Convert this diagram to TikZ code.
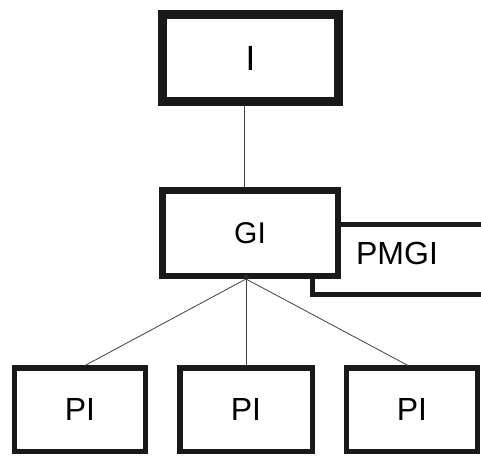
\documentclass[tikz,border=0pt]{standalone}
\usepackage{fontspec}
\setmainfont{Liberation Sans}
\usetikzlibrary{calc}
\tikzset{
	unitbox/.style={draw=black!90, rectangle, inner sep=0pt, minimum width=131pt, minimum height=83.5pt, line width=5.5pt, font=\fontsize{32}{32}\selectfont},
	thin link/.style={line width=0.8pt, color=black!75}
}

\begin{document}
\begin{tikzpicture}[x=1pt, y=-1pt]
		%%%%% START %%%%%
		\useasboundingbox (0, 0) rectangle (481, 455);
		
		\node[unitbox, line width=9pt, minimum width=176pt, minimum height=87pt, font=\fontsize{35}{35}\selectfont] (i) at (250.5, 58) {I};
		\node[unitbox, line width=6.5pt, minimum width=175.5pt, minimum height=85.5pt, font=\fontsize{30}{30}\selectfont] (gi) at (250, 233) {GI};
		
		\node[unitbox] (pi1) at (80, 409.5) {PI};
		\node[unitbox, minimum width=132.5pt] (pi2) at (246, 409.5) {PI};
		\node[unitbox] (pi3) at (412, 409.5) {PI};
		
		% PMGI bracket
		\draw[line width=5pt, color=black!90] (gi.east |- 0, 224.5) -- (481, 224.5);
		\draw[line width=5pt, color=black!90] (312, 278) -- (312, 294.5) -- (481, 294.5);
		\node[font=\fontsize{32}{32}\selectfont] (pmgi) at (397, 253) {PMGI};
		
		\draw[thin link] (i.south -| 244, 0) -- (gi.north -| 244, 0);
		
		\coordinate (hub) at (246, 279);
		\draw[thin link] (hub) -- (85, 365.5);
		\draw[thin link] (hub) -- (pi2.north -| hub);
		\draw[thin link] (hub) -- (408, 365.5);
		\draw[line width=0.6pt, color=black!75] (243, 279) -- (246, 275.5) -- (249, 279);
		
		%%%%% END %%%%%
	\end{tikzpicture}
\end{document}
